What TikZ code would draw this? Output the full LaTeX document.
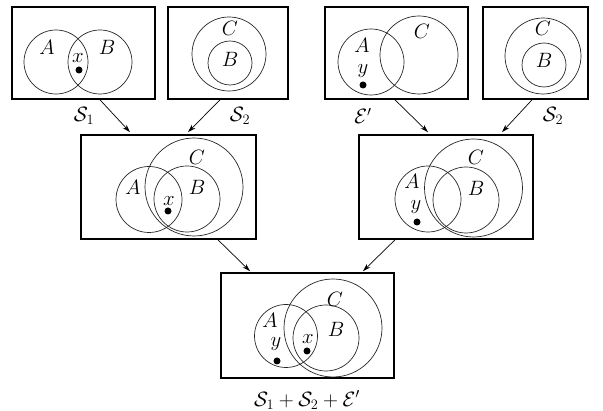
\documentclass[tikz,border=0pt]{standalone}
\usepackage{amsmath}
\usetikzlibrary{arrows.meta}
\begin{document}
\begin{tikzpicture}[x=1pt,y=-1pt,
  box/.style={draw,line width=1.7pt,inner sep=0pt,rectangle},
  venn/.style={draw,line width=0.7pt,black!85},
  lbl/.style={inner sep=0pt,font=\fontsize{20}{23}\selectfont},
  arr/.style={draw,line width=0.7pt,-{Stealth[length=8pt,width=5pt]}},
  dotp/.style={fill=black}]
\useasboundingbox (0,0) rectangle (603,411);
% boxes
\node[box,minimum width=143pt,minimum height=92pt] (b1) at (83.5,53) {};
\node[box,minimum width=120pt,minimum height=92pt] (b2) at (228,53) {};
\node[box,minimum width=143pt,minimum height=92pt] (b3) at (396.5,53) {};
\node[box,minimum width=105pt,minimum height=92pt] (b4) at (535.5,53) {};
\node[box,minimum width=175pt,minimum height=104pt] (m1) at (168.5,187) {};
\node[box,minimum width=174pt,minimum height=104pt] (m2) at (446,187) {};
\node[box,minimum width=173pt,minimum height=105pt] (m3) at (307.5,325.5) {};
% box 1
\draw[venn] (56,62) circle[radius=32pt];
\draw[venn] (100,62) circle[radius=32pt];
\node[lbl] (a1) at (47,47) {$A$};
\node[lbl] (bb1) at (107,47) {$B$};
\node[lbl] (x1) at (78,58) {$x$};
\fill[dotp] (79,70) circle[radius=3.5pt];
\node[lbl] (s1) at (84,116) {$\mathcal{S}_1$};
% box 2
\draw[venn] (229,54) circle[radius=37pt];
\draw[venn] (230,63) circle[radius=22pt];
\node[lbl] (c2) at (230,28) {$C$};
\node[lbl] (bb2) at (230,59) {$B$};
\node[lbl] (s2) at (240,116) {$\mathcal{S}_2$};
% box 3
\draw[venn] (371,62) circle[radius=33pt];
\draw[venn] (419,55) circle[radius=39pt];
\node[lbl] (a3) at (362,45) {$A$};
\node[lbl] (c3) at (422,31) {$C$};
\node[lbl] (y3) at (363,71) {$y$};
\fill[dotp] (363,85) circle[radius=3.5pt];
\node[lbl] (e3) at (363,116) {$\mathcal{E}'$};
% box 4
\draw[venn] (543,56) circle[radius=38pt];
\draw[venn] (544,65) circle[radius=22pt];
\node[lbl] (c4) at (543,28) {$C$};
\node[lbl] (bb4) at (544,60) {$B$};
\node[lbl] (s4) at (553,116) {$\mathcal{S}_2$};
% middle left
\draw[venn] (149,199.5) circle[radius=33pt];
\draw[venn] (187,199) circle[radius=33pt];
\draw[venn] (194,187) circle[radius=49pt];
\node[lbl] (a5) at (133,187) {$A$};
\node[lbl] (bb5) at (197,187) {$B$};
\node[lbl] (c5) at (197,157) {$C$};
\node[lbl] (x5) at (169,201) {$x$};
\fill[dotp] (168,211) circle[radius=3.5pt];
% middle right
\draw[venn] (428,199) circle[radius=33pt];
\draw[venn] (466,200) circle[radius=33pt];
\draw[venn] (473.5,188) circle[radius=49pt];
\node[lbl] (a6) at (412,181) {$A$};
\node[lbl] (bb6) at (476,188) {$B$};
\node[lbl] (c6) at (476,157) {$C$};
\node[lbl] (y6) at (416,207) {$y$};
\fill[dotp] (417,222) circle[radius=3.5pt];
% bottom
\draw[venn] (286,336) circle[radius=31.5pt];
\draw[venn] (326,338) circle[radius=33pt];
\draw[venn] (333,328) circle[radius=49pt];
\node[lbl] (a7) at (270,320) {$A$};
\node[lbl] (bb7) at (336,329) {$B$};
\node[lbl] (c7) at (335,299) {$C$};
\node[lbl] (y7) at (276,344) {$y$};
\node[lbl] (x7) at (308,339) {$x$};
\fill[dotp] (277,361) circle[radius=3.5pt];
\fill[dotp] (307,351) circle[radius=3.5pt];
\node[lbl] (s7) at (307,400) {$\mathcal{S}_1+\mathcal{S}_2+\mathcal{E}'$};
% arrows
\draw[arr] ([xshift=16.5pt]b1.south) -- ([xshift=-38.5pt,yshift=2pt]m1.north);
\draw[arr] ([xshift=-8pt]b2.south) -- ([xshift=19.5pt,yshift=2pt]m1.north);
\draw[arr] ([xshift=-1.5pt]b3.south) -- ([xshift=-18pt,yshift=2pt]m2.north);
\draw[arr] ([xshift=-3.5pt]b4.south) -- ([xshift=56pt,yshift=2pt]m2.north);
\draw[arr] ([xshift=49.5pt]m1.south) -- ([xshift=-57.5pt,yshift=1pt]m3.north);
\draw[arr] ([xshift=-51pt]m2.south) -- ([xshift=55.5pt,yshift=1pt]m3.north);
\end{tikzpicture}
\end{document}
